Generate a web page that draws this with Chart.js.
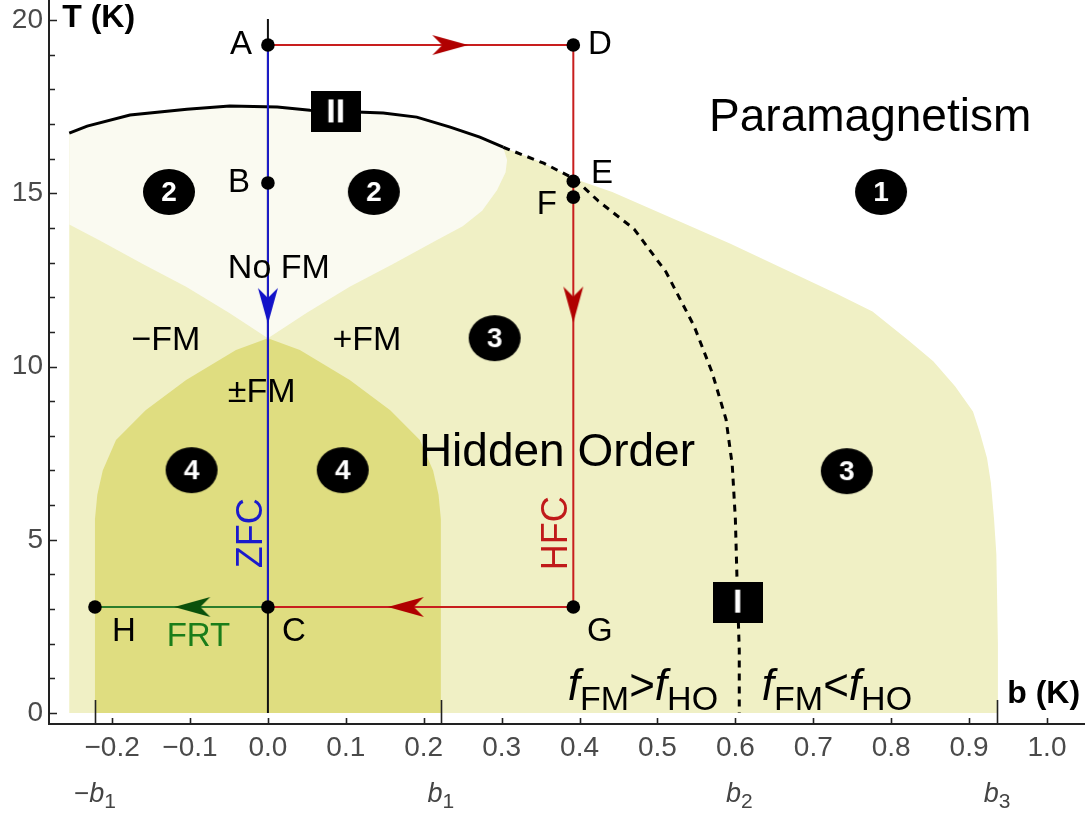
<!DOCTYPE html>
<html>
<head>
<meta charset="utf-8">
<title>Hidden order phase diagram</title>
<script src="https://cdn.jsdelivr.net/npm/chart.js@4.4.1/dist/chart.umd.min.js"></script>
<style>
  html, body { margin: 0; padding: 0; background: #fff; }
  #wrap { width: 1090px; height: 813px; }
</style>
</head>
<body>
<div id="wrap"><canvas id="c" width="1090" height="813"></canvas></div>
<script>
// ---------- values ----------
const xTicks = [-0.2, -0.1, 0, 0.1, 0.2, 0.3, 0.4, 0.5, 0.6, 0.7, 0.8, 0.9, 1.0];
const yTicks = [0, 5, 10, 15, 20];
const yMinorTicks = [1, 2, 3, 4, 6, 7, 8, 9, 11, 12, 13, 14, 16, 17, 18, 19];

// special fields b1, b2, b3 on the b axis
const bMarkValues = [-0.222, 0.222, 0.605, 0.936];
const bMarkSign = ['\u2212', '', '', ''];
const bMarkIndex = ['1', '1', '2', '3'];

// phase boundary II (solid)
const lineIIb = [-0.255, -0.232, -0.177, -0.104, -0.049, 0.012, 0.054, 0.148, 0.191, 0.234, 0.272, 0.302];
const lineIIT = [16.74, 16.94, 17.26, 17.43, 17.52, 17.49, 17.40, 17.32, 17.20, 16.91, 16.62, 16.33];

// crossover I (dashed), f_FM = f_HO
const lineIb = [0.302, 0.354, 0.394, 0.424, 0.470, 0.511, 0.547, 0.570, 0.588, 0.596, 0.600, 0.602, 0.605, 0.605];
const lineIT = [16.33, 15.87, 15.41, 14.78, 13.97, 12.73, 11.17, 9.84, 8.48, 7.16, 5.60, 3.95, 1.82, 0];

// outer edge of the hidden-order region (right of E)
const hoEdgeb = [0.442, 0.593, 0.730, 0.776, 0.822, 0.854, 0.882, 0.905, 0.914, 0.923, 0.928, 0.932, 0.935, 0.937, 0.937];
const hoEdgeT = [15.04, 13.55, 12.10, 11.59, 10.76, 10.15, 9.43, 8.70, 8.08, 7.36, 6.64, 5.61, 4.59, 2.0, 0];

// lower edge of region 2 (no FM), from the top right down to the crossing and up to the left edge
const noFMb = [0.307, 0.305, 0.294, 0.275, 0.250, 0.217, 0.160, 0.105, 0.050, 0, -0.050, -0.105, -0.160, -0.217, -0.255];
const noFMT = [15.96, 15.60, 15.09, 14.50, 14.05, 13.65, 12.95, 12.30, 11.55, 10.82, 11.55, 12.30, 12.95, 13.65, 14.10];

// edge of region 4 (±FM)
const bothFMb = [-0.222, -0.222, -0.219, -0.212, -0.195, -0.157, -0.105, -0.041, 0, 0.041, 0.105, 0.157, 0.195, 0.212, 0.219, 0.222, 0.222];
const bothFMT = [0, 5.60, 6.30, 7.00, 7.88, 8.74, 9.61, 10.48, 10.82, 10.48, 9.61, 8.74, 7.88, 7.00, 6.30, 5.60, 0];

// left edge of the computed region
const leftEdgeb = -0.255;

// protocol points
const pointNames = ['A', 'B', 'C', 'D', 'E', 'F', 'G', 'H'];
const pointb = [0, 0, 0, 0.392, 0.392, 0.392, 0.392, -0.222];
const pointT = [19.28, 15.30, 3.06, 19.28, 15.35, 14.89, 3.06, 3.06];

// region tags
const regionTags = ['2', '2', '1', '3', '4', '4', '3'];
const regionTagb = [-0.127, 0.136, 0.787, 0.291, -0.098, 0.096, 0.743];
const regionTagT = [15.04, 15.04, 15.04, 10.82, 7.01, 7.01, 6.98];

// line tags
const lineTags = ['II', 'I'];
const lineTagb = [0.087, 0.603];
const lineTagT = [17.35, 3.20];

// ---------- helpers ----------
const FAMILY = '"Liberation Sans", Arial, Helvetica, sans-serif';
const xy = (bs, Ts) => bs.map((b, i) => ({ x: b, y: Ts[i] }));
const P = name => { const i = pointNames.indexOf(name); return { x: pointb[i], y: pointT[i] }; };

function arrowImage(color) {
  const c = document.createElement('canvas');
  c.width = 38; c.height = 22;
  const g = c.getContext('2d');
  g.fillStyle = color;
  g.beginPath();
  g.moveTo(37, 11);
  g.lineTo(1, 1);
  g.lineTo(11, 11);
  g.lineTo(1, 21);
  g.closePath();
  g.fill();
  return c;
}

function badgeImage(label) {
  const c = document.createElement('canvas');
  c.width = 54; c.height = 48;
  const g = c.getContext('2d');
  g.fillStyle = '#000';
  g.beginPath();
  g.ellipse(27, 24, 26, 23, 0, 0, Math.PI * 2);
  g.fill();
  g.fillStyle = '#fff';
  g.font = 'bold 28px ' + FAMILY;
  g.textAlign = 'center';
  g.textBaseline = 'middle';
  g.fillText(label, 27, 25);
  return c;
}

function boxImage(label) {
  const c = document.createElement('canvas');
  c.width = 50; c.height = 41;
  const g = c.getContext('2d');
  g.fillStyle = '#000';
  g.fillRect(0, 0, 50, 41);
  g.fillStyle = '#fff';
  g.font = 'bold 34px ' + FAMILY;
  g.textAlign = 'center';
  g.textBaseline = 'middle';
  g.fillText(label, 25, 22);
  return c;
}

// ---------- region outlines (closed shapes) ----------
const region3 = [{ x: leftEdgeb, y: 0 }]
  .concat(xy(lineIIb, lineIIT))
  .concat(xy(lineIb.slice(1, 3), lineIT.slice(1, 3)))
  .concat(xy(hoEdgeb, hoEdgeT));
const region2 = xy(lineIIb, lineIIT).concat(xy(noFMb, noFMT));
const region4 = xy(bothFMb, bothFMT);

const redPath = [P('A'), P('D'), P('G'), P('C')];
const bluePath = [P('A'), P('C')];
const greenPath = [P('H'), P('C')];

const redArrow = arrowImage('#b00000');
const blueArrow = arrowImage('#1212c8');
const greenArrow = arrowImage('#0b510b');

const arrows = [
  { x: 0.234, y: pointT[0], img: redArrow, rot: 0 },
  { x: pointb[3], y: 11.79, img: redArrow, rot: 90 },
  { x: 0.177, y: pointT[2], img: redArrow, rot: 180 },
  { x: 0, y: 11.75, img: blueArrow, rot: 90 },
  { x: -0.097, y: pointT[7], img: greenArrow, rot: 180 }
];

const shape = (data, color, order) => ({
  type: 'scatter', data, showLine: true, fill: 'shape', backgroundColor: color,
  borderWidth: 0, borderColor: 'rgba(0,0,0,0)', pointRadius: 0, tension: 0, order
});
const path = (data, color, width, order, dash) => ({
  type: 'scatter', data, showLine: true, fill: false, borderColor: color,
  borderWidth: width, borderDash: dash || [], pointRadius: 0, tension: 0, order
});

// ---------- text ----------
const textNotes = [
  { s: 'A', b: -0.0205, T: 19.28, align: 'right', size: 33 },
  { s: 'B', b: -0.023, T: 15.30, align: 'right', size: 33 },
  { s: 'C', b: 0.018, T: 2.34, align: 'left', size: 33 },
  { s: 'D', b: 0.411, T: 19.28, align: 'left', size: 33 },
  { s: 'E', b: 0.4146, T: 15.56, align: 'left', size: 33 },
  { s: 'F', b: 0.371, T: 14.66, align: 'right', size: 33 },
  { s: 'G', b: 0.4095, T: 2.34, align: 'left', size: 33 },
  { s: 'H', b: -0.200, T: 2.34, align: 'left', size: 33 },
  { s: 'No FM', b: 0.014, T: 12.84, align: 'center', size: 34 },
  { s: '\u2212FM', b: -0.131, T: 10.76, align: 'center', size: 34 },
  { s: '+FM', b: 0.127, T: 10.76, align: 'center', size: 34 },
  { s: '\u00b1FM', b: -0.008, T: 9.24, align: 'center', size: 34 },
  { s: 'Paramagnetism', b: 0.773, T: 17.17, align: 'center', size: 46 },
  { s: 'Hidden Order', b: 0.371, T: 7.50, align: 'center', size: 46 },
  { s: 'FRT', b: -0.130, T: 2.19, align: 'left', size: 33, color: '#1a7d1a' },
  { s: 'ZFC', b: -0.0205, T: 5.19, align: 'center', size: 36, color: '#1a1acc', rot: -90 },
  { s: 'HFC', b: 0.371, T: 5.19, align: 'center', size: 36, color: '#c01a1a', rot: -90 },
  { s: 'T (K)', b: -0.264, T: 20.06, align: 'left', size: 32, bold: true },
  { s: 'b (K)', b: 0.949, T: 0.55, align: 'left', size: 32, bold: true }
];

// f_FM > f_HO  and  f_FM < f_HO
const freeEnergyNotes = [
  { b: 0.385, T: 0.375, sign: '>' },
  { b: 0.634, T: 0.375, sign: '<' }
];

function drawRuns(ctx, x, y, runs, align) {
  let total = 0;
  runs.forEach(r => { ctx.font = r.font; r.w = ctx.measureText(r.s).width; total += r.w; });
  let cx = align === 'center' ? x - total / 2 : x;
  ctx.textAlign = 'left';
  ctx.textBaseline = 'alphabetic';
  runs.forEach(r => { ctx.font = r.font; ctx.fillText(r.s, cx, y + (r.dy || 0)); cx += r.w; });
}

const fmtB = v => (v < 0 ? '\u2212' : '') + Math.abs(v).toFixed(1);

const decorations = {
  id: 'decorations',
  afterDatasetsDraw(chart) {
    const { ctx, chartArea: a } = chart;
    const sx = chart.scales.x, sy = chart.scales.y;
    ctx.save();
    // inward frame ticks
    ctx.strokeStyle = '#222';
    ctx.lineWidth = 1.6;
    ctx.beginPath();
    xTicks.forEach(v => {
      const p = Math.round(sx.getPixelForValue(v)) + 0.5;
      ctx.moveTo(p, a.bottom); ctx.lineTo(p, a.bottom - 6);
    });
    [bMarkValues[0], bMarkValues[1], bMarkValues[3]].forEach(v => {
      const p = Math.round(sx.getPixelForValue(v)) + 0.5;
      ctx.moveTo(p, a.bottom); ctx.lineTo(p, a.bottom - 24);
    });
    yTicks.forEach(v => {
      const p = Math.round(sy.getPixelForValue(v)) + 0.5;
      ctx.moveTo(a.left, p); ctx.lineTo(a.left + 8, p);
    });
    yMinorTicks.forEach(v => {
      const p = Math.round(sy.getPixelForValue(v)) + 0.5;
      ctx.moveTo(a.left, p); ctx.lineTo(a.left + 6, p);
    });
    ctx.stroke();

    // tick labels
    ctx.fillStyle = '#4a4a4a';
    ctx.font = '28px ' + FAMILY;
    ctx.textBaseline = 'middle';
    ctx.textAlign = 'center';
    xTicks.forEach(v => ctx.fillText(fmtB(v), sx.getPixelForValue(v), a.bottom + 24));
    ctx.textAlign = 'right';
    yTicks.forEach(v => ctx.fillText(String(v), a.left - 6, sy.getPixelForValue(v)));
    ctx.restore();
  },
  afterDraw(chart) {
    const { ctx } = chart;
    const sx = chart.scales.x, sy = chart.scales.y;
    ctx.save();
    textNotes.forEach(n => {
      const x = sx.getPixelForValue(n.b), y = sy.getPixelForValue(n.T);
      ctx.fillStyle = n.color || '#000';
      ctx.font = (n.bold ? 'bold ' : '') + n.size + 'px ' + FAMILY;
      ctx.textAlign = n.align;
      ctx.textBaseline = 'middle';
      if (n.rot) {
        ctx.save();
        ctx.translate(x, y);
        ctx.rotate(n.rot * Math.PI / 180);
        ctx.fillText(n.s, 0, 0);
        ctx.restore();
      } else {
        ctx.fillText(n.s, x, y);
      }
    });
    ctx.fillStyle = '#000';
    freeEnergyNotes.forEach(n => {
      const big = '44px ' + FAMILY, it = 'italic 44px ' + FAMILY, sub = '34px ' + FAMILY;
      drawRuns(ctx, sx.getPixelForValue(n.b), sy.getPixelForValue(n.T), [
        { s: 'f', font: it }, { s: 'FM', font: sub, dy: 10 },
        { s: n.sign, font: big }, { s: 'f', font: it }, { s: 'HO', font: sub, dy: 10 }
      ], 'left');
    });
    // b1, b2, b3 under the axis
    ctx.fillStyle = '#444';
    bMarkValues.forEach((v, i) => {
      const runs = [];
      if (bMarkSign[i]) runs.push({ s: bMarkSign[i], font: '26px ' + FAMILY });
      runs.push({ s: 'b', font: 'italic 27px ' + FAMILY });
      runs.push({ s: bMarkIndex[i], font: '21px ' + FAMILY, dy: 6 });
      drawRuns(ctx, sx.getPixelForValue(v), chart.chartArea.bottom + 78, runs, 'center');
    });
    ctx.restore();
  }
};

new Chart(document.getElementById('c'), {
  type: 'scatter',
  data: {
    datasets: [
      shape(region3, '#f0f0c5', 30),
      shape(region2, '#fafaf1', 29),
      shape(region4, '#dfdd80', 28),
      path([{ x: 0, y: 0 }, { x: 0, y: 20.03 }], '#111', 2, 20),
      path(xy(lineIIb, lineIIT), '#000', 3, 19),
      path(xy(lineIb, lineIT), '#000', 3, 18, [7, 6]),
      path(bluePath, '#1c1ccc', 2, 17),
      path(redPath, '#c81e1e', 2, 16),
      path(greenPath, '#2b7d2b', 2, 15),
      {
        type: 'scatter', order: 5,
        data: arrows.map(a => ({ x: a.x, y: a.y })),
        pointStyle: arrows.map(a => a.img),
        rotation: arrows.map(a => a.rot),
        pointRadius: 10
      },
      {
        type: 'scatter', order: 4,
        data: xy(pointb, pointT),
        pointStyle: 'circle', pointRadius: 6.8,
        backgroundColor: '#000', borderColor: '#000', borderWidth: 0
      },
      {
        type: 'scatter', order: 3,
        data: xy(regionTagb, regionTagT),
        pointStyle: regionTags.map(badgeImage), pointRadius: 20
      },
      {
        type: 'scatter', order: 2,
        data: xy(lineTagb, lineTagT),
        pointStyle: lineTags.map(boxImage), pointRadius: 20
      }
    ]
  },
  options: {
    responsive: false,
    animation: false,
    devicePixelRatio: 1,
    events: [],
    layout: { autoPadding: false, padding: { left: 0, right: 6, top: 0, bottom: 0 } },
    plugins: { legend: { display: false }, tooltip: { enabled: false } },
    scales: {
      x: {
        type: 'linear', position: 'bottom', min: -0.281, max: 1.0475,
        grid: { display: false, drawTicks: false },
        border: { display: true, color: '#222', width: 2 },
        ticks: { display: false },
        afterBuildTicks: s => { s.ticks = xTicks.map(v => ({ value: v })); },
        afterFit: s => { s.height = 89; }
      },
      y: {
        type: 'linear', position: 'left', min: -0.317, max: 20.58,
        grid: { display: false, drawTicks: false },
        border: { display: true, color: '#222', width: 2 },
        ticks: { display: false },
        afterBuildTicks: s => { s.ticks = yTicks.map(v => ({ value: v })); },
        afterFit: s => { s.width = 49; }
      }
    }
  },
  plugins: [decorations]
});
</script>
</body>
</html>
